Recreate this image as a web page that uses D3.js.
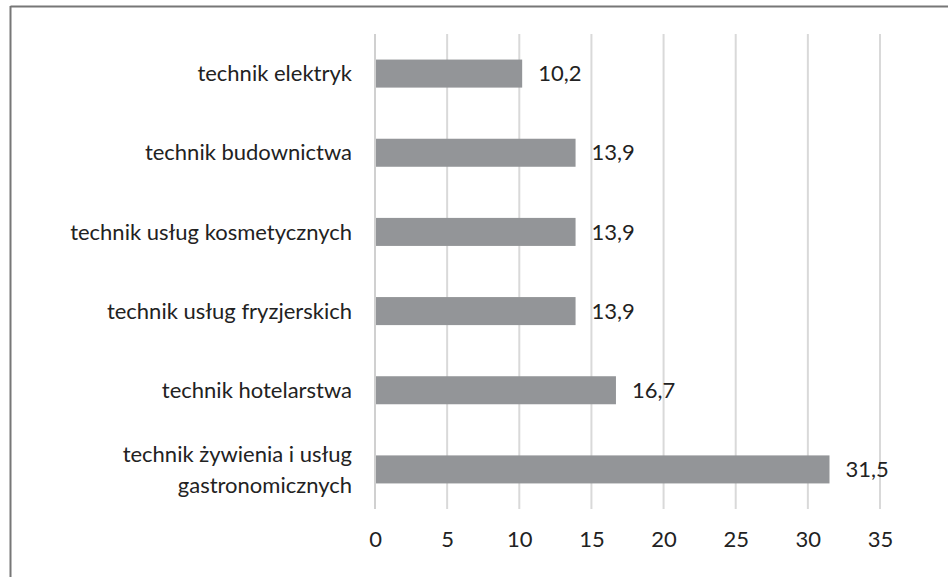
<!DOCTYPE html>
<html><head><meta charset="utf-8">
<script src="https://cdn.jsdelivr.net/npm/d3@7"></script>
<style>body{margin:0;background:#fff}svg{display:block}</style>
</head><body>
<script>
const categories = ["technik elektryk","technik budownictwa","technik usług kosmetycznych","technik usług fryzjerskich","technik hotelarstwa","technik żywienia i usług gastronomicznych"];
const values = [10.2,13.9,13.9,13.9,16.7,31.5];
const tickValues = [0,5,10,15,20,25,30,35];

const W=948,H=577;
const svg=d3.select("body").append("svg").attr("width",W).attr("height",H);
const font="Lato, 'Open Sans', sans-serif";
const fs=22;
// frame
svg.append("line").attr("x1",10.5).attr("x2",W).attr("y1",6.5).attr("y2",6.5).attr("stroke","#777").attr("stroke-width",2);
svg.append("line").attr("x1",10.5).attr("x2",10.5).attr("y1",6).attr("y2",H).attr("stroke","#777").attr("stroke-width",2);

const x=d3.scaleLinear().domain([0,35]).range([375,880]);
const y=d3.scaleBand().domain(categories).range([34,509]).paddingInner(0.646).paddingOuter(0.323);

// gridlines
svg.append("g").selectAll("line").data(tickValues).join("line")
 .attr("x1",d=>x(d)).attr("x2",d=>x(d)).attr("y1",34).attr("y2",509)
 .attr("stroke",d=>d===0?"#d0d0d0":"#d9d9d9").attr("stroke-width",2);

// bars
svg.append("g").selectAll("rect").data(values).join("rect")
 .attr("x",x(0)+1).attr("y",(d,i)=>y(categories[i]))
 .attr("width",d=>x(d)-x(0)-1).attr("height",y.bandwidth()).attr("fill","#939598");

// value labels
svg.append("g").selectAll("text").data(values).join("text")
 .attr("x",d=>x(d)+16).attr("y",(d,i)=>y(categories[i])+y.bandwidth()/2)
 .attr("dy","0.35em").attr("font-family",font).attr("font-size",fs).attr("fill","#222")
 .text(d=>d.toFixed(1).replace(".",","));

// x axis tick labels
const xAxis=d3.axisBottom(x).tickValues(tickValues).tickSize(0).tickPadding(0).tickFormat(d=>d);
const gx=svg.append("g").attr("transform","translate(0,531)").call(xAxis);
gx.select(".domain").remove();
gx.selectAll("text").attr("font-family",font).attr("font-size",fs).attr("fill","#222");

// category labels
const lab=svg.append("g").selectAll("text").data(categories).join("text")
 .attr("text-anchor","end").attr("font-family",font).attr("font-size",fs).attr("fill","#222")
 .attr("x",352).attr("y",d=>y(d)+y.bandwidth()/2);
lab.each(function(d){
  const t=d3.select(this);
  if(d.length>30){
    t.append("tspan").attr("x",352).attr("dy","-0.35em").text("technik żywienia i usług");
    t.append("tspan").attr("x",352).attr("dy","1.4em").text("gastronomicznych");
  } else {
    t.append("tspan").attr("x",352).attr("dy","0.35em").text(d);
  }
});
</script>
</body></html>
